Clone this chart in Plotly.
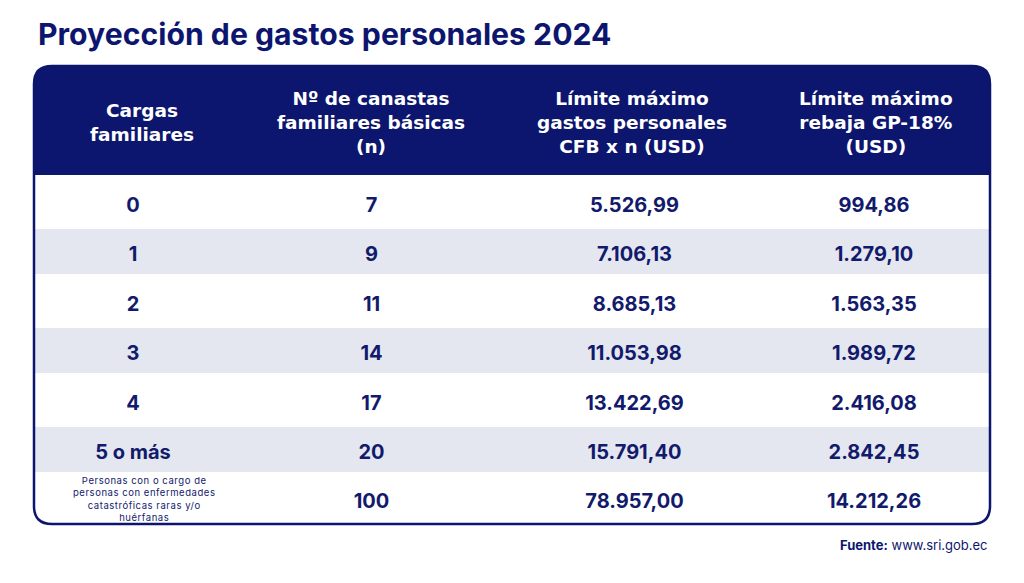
import plotly.graph_objects as go

# ---------------- data ----------------
headers = [
    "Cargas<br>familiares",
    "Nº de canastas<br>familiares básicas<br>(n)",
    "Límite máximo<br>gastos personales<br>CFB x n (USD)",
    "Límite máximo<br>rebaja GP-18%<br>(USD)",
]
cargas = ["0", "1", "2", "3", "4", "5 o más",
          "Personas con o cargo de<br>personas con enfermedades<br>catastróficas raras y/o<br>huérfanas"]
canastas = [7, 9, 11, 14, 17, 20, 100]
limite_gp = [5526.99, 7106.13, 8685.13, 11053.98, 13422.69, 15791.40, 78957.00]
rebaja_gp = [994.86, 1279.10, 1563.35, 1989.72, 2416.08, 2842.45, 14212.26]

title_text = "Proyección de gastos personales 2024"
source_text = "<b>Fuente:</b> www.sri.gob.ec"

# ---------------- styles ----------------
W, H = 1024, 583
NAVY = "#0d166e"
TEXT_NAVY = "#121a6c"
GRAY = "#e4e7f0"
FONT = "Inter"
HEAD_FONT = "DejaVu Sans"

tbl_left, tbl_right, tbl_top, tbl_bottom = 34, 990, 66, 524
header_h = 109
row_h = 45
col_widths = [198, 279, 247, 232]
header_dx = [9, -1, -3, 2]
radius = 18
BASE = 5.77     # base cell font size (sets line spacing in cells)
NUM_SIZE = 20   # displayed number size


def fmt(v):
    s = f"{v:,.2f}"
    return s.replace(",", "X").replace(".", ",").replace("X", ".")


def px_x(x):
    return x / W


def px_y(y):
    return 1 - y / H


n = len(cargas)
row_fill = ["white" if i % 2 == 0 else GRAY for i in range(n)]


def cell(txt, i):
    big = f'<b><span style="font-size:{NUM_SIZE}px">{txt}</span></b>'
    if i == n - 1:
        lead, trail = 20.2, '<br>&nbsp;'
    elif i % 2 == 0:   # white rows are taller
        lead, trail = 21.4, '<br><span style="font-size:9px">&nbsp;</span>'
    else:
        lead, trail = 16.3, ''
    return f'<span style="font-size:{lead}px">&nbsp;</span><br>{big}{trail}'


col1 = [cell(c, i) if i < n - 1 else "" for i, c in enumerate(cargas)]
col2 = [cell(v, i) for i, v in enumerate(canastas)]
col3 = [cell(fmt(v), i) for i, v in enumerate(limite_gp)]
col4 = [cell(fmt(v), i) for i, v in enumerate(rebaja_gp)]

fig = go.Figure(
    go.Table(
        domain=dict(x=[px_x(tbl_left), px_x(tbl_right)],
                    y=[px_y(tbl_bottom), px_y(tbl_top)]),
        columnwidth=col_widths,
        header=dict(values=["", "", "", ""], height=header_h,
                    fill_color=NAVY, line=dict(color=NAVY, width=0),
                    font=dict(color="white", size=18, family=FONT)),
        cells=dict(values=[col1, col2, col3, col4], height=row_h,
                   fill_color=[row_fill] * 4,
                   line=dict(color=[row_fill] * 4, width=0),
                   align="center",
                   font=dict(color=TEXT_NAVY, family=FONT, size=BASE)),
    )
)

annotations = []
x0 = tbl_left
total = sum(col_widths)
centers = []
for lbl, w, dx in zip(headers, col_widths, header_dx):
    wpx = w / total * (tbl_right - tbl_left)
    centers.append(x0 + wpx / 2)
    annotations.append(dict(
        x=px_x(x0 + wpx / 2 + dx), y=px_y(tbl_top + header_h / 2 + 2),
        xref="paper", yref="paper", text=f"<b>{lbl}</b>",
        showarrow=False, xanchor="center", yanchor="middle",
        font=dict(color="white", size=18.5, family=HEAD_FONT)))
    x0 += wpx

# long label of the last row (centered line by line)
annotations.append(dict(
    x=px_x(centers[0] + 11), y=px_y(499), xref="paper", yref="paper",
    text=f'<span style="letter-spacing:0.55px">{cargas[-1]}</span>',
    showarrow=False, xanchor="center", yanchor="middle", align="center",
    font=dict(color=TEXT_NAVY, size=9.5, family=FONT)))

annotations.append(dict(
    x=px_x(36), y=px_y(34), xref="paper", yref="paper",
    text=f"<b>{title_text}</b>", showarrow=False,
    xanchor="left", yanchor="middle",
    font=dict(color=NAVY, size=30.2, family=FONT)))
annotations.append(dict(
    x=px_x(990), y=px_y(545), xref="paper", yref="paper",
    text=source_text, showarrow=False,
    xanchor="right", yanchor="middle",
    font=dict(color=NAVY, size=13, family=FONT)))


def P(x, y):
    return f"{px_x(x):.5f},{px_y(y):.5f}"


L, R, T, B, r = tbl_left, tbl_right, tbl_top, tbl_bottom, radius
shapes = []
corners = [
    (f"M{P(L-3,T+r)} L{P(L-3,T-3)} L{P(L+r,T-3)} L{P(L+r,T)} Q{P(L,T)} {P(L,T+r)} Z"),
    (f"M{P(R-r,T-3)} L{P(R+3,T-3)} L{P(R+3,T+r)} L{P(R,T+r)} Q{P(R,T)} {P(R-r,T)} Z"),
    (f"M{P(L-3,B-r)} L{P(L,B-r)} Q{P(L,B)} {P(L+r,B)} L{P(L+r,B+3)} L{P(L-3,B+3)} Z"),
    (f"M{P(R,B-r)} L{P(R+3,B-r)} L{P(R+3,B+3)} L{P(R-r,B+3)} L{P(R-r,B)} Q{P(R,B)} {P(R,B-r)} Z"),
]
for c in corners:
    shapes.append(dict(type="path", xref="paper", yref="paper", path=c,
                       fillcolor="white", line=dict(width=0), layer="above"))
border = (f"M{P(L+r,T)} L{P(R-r,T)} Q{P(R,T)} {P(R,T+r)} L{P(R,B-r)} "
          f"Q{P(R,B)} {P(R-r,B)} L{P(L+r,B)} Q{P(L,B)} {P(L,B-r)} "
          f"L{P(L,T+r)} Q{P(L,T)} {P(L+r,T)} Z")
shapes.append(dict(type="path", xref="paper", yref="paper", path=border,
                   line=dict(color=NAVY, width=2.5), layer="above"))

fig.update_layout(
    width=W, height=H,
    margin=dict(l=0, r=0, t=0, b=0),
    paper_bgcolor="white", plot_bgcolor="white",
    annotations=annotations, shapes=shapes,
    showlegend=False,
)

fig.write_html("out.html", config={"displayModeBar": False},
               post_script="document.body.style.margin='0px';")
